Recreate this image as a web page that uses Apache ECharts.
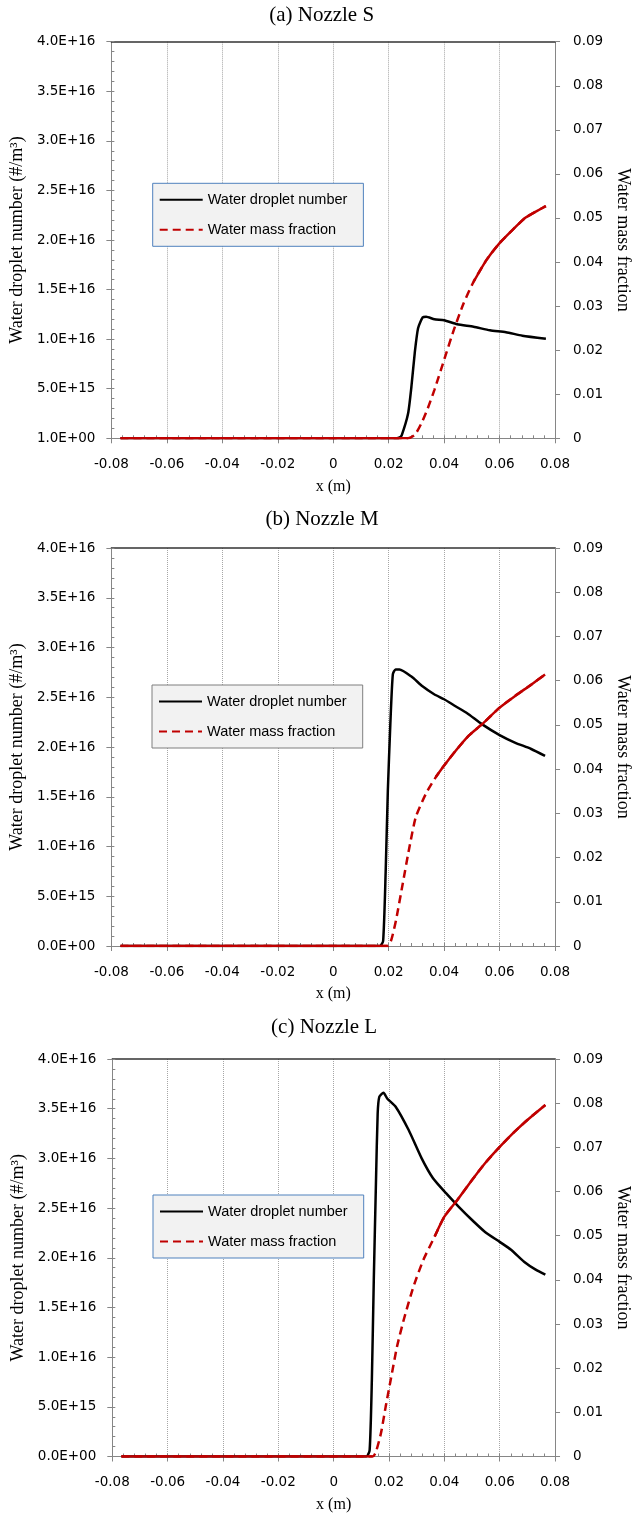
<!DOCTYPE html>
<html><head><meta charset="utf-8">
<script src="https://cdn.jsdelivr.net/npm/echarts@6/dist/echarts.min.js"></script>
<style>html,body{margin:0;padding:0;background:#fff}#c{width:640px;height:1515px}</style>
</head><body><div id="c"></div>
<script>
// ---------- data ----------
const panelTitles = ['(a) Nozzle S', '(b) Nozzle M', '(c) Nozzle L'];
const seriesNames = ['Water droplet number', 'Water mass fraction'];
const leftAxisName = 'Water droplet number (#/m\u00B3)';
const rightAxisName = 'Water mass fraction';
const xAxisName = 'x (m)';
const xTickRange = [-0.08, 0.08, 0.02];
const leftTickRange = [0, 4.0e16, 0.5e16];
const rightTickRange = [0, 0.09, 0.01];
const zeroLabels = ['1.0E+00', '0.0E+00', '0.0E+00'];

// (a) Nozzle S
const sDropX = [-0.0767, 0.0229, 0.0240, 0.0247, 0.0270, 0.0282, 0.0294, 0.0306, 0.0323, 0.0335, 0.0365, 0.0400, 0.0447, 0.0506, 0.0565, 0.0623, 0.0682, 0.0767];
const sDropY = [0, 0, 0.01e16, 0.03e16, 0.25e16, 0.52e16, 0.86e16, 1.11e16, 1.22e16, 1.225e16, 1.20e16, 1.19e16, 1.15e16, 1.125e16, 1.09e16, 1.07e16, 1.035e16, 1.005e16];
const sFracX = [-0.0767, 0.0270, 0.0294, 0.0318, 0.0341, 0.0365, 0.0400, 0.0435, 0.0470, 0.0506, 0.0553, 0.0600, 0.0647, 0.0694, 0.0767];
const sFracY = [0, 0, 0.00075, 0.0034, 0.0068, 0.0110, 0.0178, 0.0246, 0.0306, 0.0355, 0.0405, 0.0443, 0.0473, 0.0501, 0.0527];

// (b) Nozzle M
const mDropX = [-0.0767, 0.0168, 0.0180, 0.0189, 0.0197, 0.0206, 0.0215, 0.0225, 0.0239, 0.0281, 0.0322, 0.0364, 0.0400, 0.0441, 0.0483, 0.0536, 0.0600, 0.0655, 0.0714, 0.0764];
const mDropY = [0, 0, 0.05e16, 0.73e16, 1.56e16, 2.23e16, 2.73e16, 2.78e16, 2.78e16, 2.71e16, 2.61e16, 2.53e16, 2.48e16, 2.41e16, 2.34e16, 2.23e16, 2.12e16, 2.045e16, 1.98e16, 1.91e16];
const mFracX = [-0.0767, 0.0197, 0.0210, 0.0227, 0.0251, 0.0275, 0.0298, 0.0334, 0.0370, 0.0400, 0.0441, 0.0488, 0.0536, 0.0600, 0.0655, 0.0714, 0.0764];
const mFracY = [0, 0, 0.0015, 0.0060, 0.0142, 0.0224, 0.0292, 0.0344, 0.0382, 0.0408, 0.0441, 0.0475, 0.0501, 0.0539, 0.0565, 0.0591, 0.0614];

// (c) Nozzle L
const lDropX = [-0.0767, 0.0118, 0.0130, 0.0138, 0.0145, 0.0153, 0.0159, 0.0165, 0.0180, 0.0194, 0.0224, 0.0271, 0.0318, 0.0359, 0.0406, 0.0453, 0.0500, 0.0547, 0.0600, 0.0641, 0.0688, 0.0730, 0.0765];
const lDropY = [0, 0, 0.065e16, 0.77e16, 1.78e16, 2.78e16, 3.45e16, 3.62e16, 3.66e16, 3.60e16, 3.52e16, 3.285e16, 3.00e16, 2.80e16, 2.65e16, 2.51e16, 2.38e16, 2.26e16, 2.16e16, 2.08e16, 1.96e16, 1.88e16, 1.83e16];
const lFracX = [-0.0767, 0.0141, 0.0153, 0.0171, 0.0188, 0.0206, 0.0229, 0.0253, 0.0288, 0.0324, 0.0365, 0.0400, 0.0447, 0.0500, 0.0547, 0.0600, 0.0653, 0.0700, 0.0765];
const lFracY = [0, 0, 0.0011, 0.0053, 0.0113, 0.0173, 0.0249, 0.0309, 0.0384, 0.0445, 0.0498, 0.0543, 0.0581, 0.0626, 0.0664, 0.0701, 0.0735, 0.0762, 0.0796];

// x beyond which the dense red curve renders solid (Excel dash artefact)
const solidFrom = [0.0506, 0.0370, 0.0365];

// ---------- layout / style ----------
const panels = [
  {dx: sDropX, dy: sDropY, fx: sFracX, fy: sFracY},
  {dx: mDropX, dy: mDropY, fx: mFracX, fy: mFracY},
  {dx: lDropX, dy: lDropY, fx: lFracX, fy: lFracY}
];
const gridPos = [
  {left: 110, top: 41.7, width: 453.3, height: 396.6},
  {left: 111, top: 548, width: 452, height: 398},
  {left: 112.3, top: 1059, width: 453.7, height: 397.5}
];
const titleTop = [5, 509, 1017];
const legendPos = [
  {left: 152.7, top: 183.3, border: '#4f81bd'},
  {left: 152, top: 685, border: '#7f7f7f'},
  {left: 153, top: 1195, border: '#4f81bd'}
];
const RED = '#c00000';
const AX = '#868686';
const serif = 'Liberation Serif';
const tickFont = 'DejaVu Sans';
const SM = 0.2;

function sci(v) {
  if (v === 0) return '0.0E+00';
  const e = Math.floor(Math.log10(v) + 1e-9);
  const m = v / Math.pow(10, e);
  return m.toFixed(1) + 'E+' + (e < 10 ? '0' : '') + e;
}
function pairs(xs, ys) { return xs.map((x, i) => [x, ys[i]]); }

const option = {
  backgroundColor: '#fff',
  animation: false,
  title: [], grid: [], xAxis: [], yAxis: [], legend: [], series: []
};

panels.forEach((p, i) => {
  const g = gridPos[i];
  option.grid.push({left: g.left, top: g.top, width: g.width, height: g.height, containLabel: false});
  option.title.push({
    text: panelTitles[i], left: g.left + g.width / 2 - 15, top: titleTop[i], textAlign: 'center', padding: 0,
    textStyle: {fontFamily: serif, fontSize: 21, fontWeight: 'normal', color: '#000'}
  });
  // main x axis (bottom)
  option.xAxis.push({
    type: 'value', gridIndex: i, position: 'bottom', min: xTickRange[0], max: xTickRange[1], interval: xTickRange[2],
    name: xAxisName, nameLocation: 'middle', nameGap: 40,
    nameTextStyle: {fontFamily: serif, fontSize: 16, color: '#000'},
    axisLine: {show: true, onZero: false, lineStyle: {color: AX, width: 1}},
    axisTick: {show: true, inside: false, length: 5, lineStyle: {color: AX}},
    axisLabel: {fontFamily: tickFont, fontSize: 13.5, color: '#000', margin: 19},
    splitLine: {show: true, lineStyle: {color: '#a6a6a6', type: 'dotted', width: 1}}
  });
  // minor ticks overlay (inside)
  option.xAxis.push({
    type: 'value', gridIndex: i, position: 'bottom', min: xTickRange[0], max: xTickRange[1], interval: xTickRange[2] / 5,
    axisLine: {show: false, onZero: false}, axisLabel: {show: false}, splitLine: {show: false},
    axisTick: {show: true, inside: true, length: 3, lineStyle: {color: AX}}
  });
  // top border
  option.xAxis.push({
    type: 'value', gridIndex: i, position: 'top', min: xTickRange[0], max: xTickRange[1], interval: xTickRange[2],
    axisLine: {show: true, onZero: false, lineStyle: {color: '#333', width: 1.5}},
    axisLabel: {show: false}, axisTick: {show: false}, splitLine: {show: false}
  });
  // left y
  option.yAxis.push({
    type: 'value', gridIndex: i, position: 'left', min: leftTickRange[0], max: leftTickRange[1], interval: leftTickRange[2],
    name: leftAxisName, nameLocation: 'middle', nameRotate: 90, nameGap: 82,
    nameTextStyle: {fontFamily: serif, fontSize: 18, color: '#000'},
    axisLine: {show: true, onZero: false, lineStyle: {color: AX, width: 1}},
    axisTick: {show: true, inside: false, length: 5, lineStyle: {color: AX}},
    axisLabel: {fontFamily: tickFont, fontSize: 13.5, color: '#000', margin: 16,
      formatter: (v) => v === 0 ? zeroLabels[i] : sci(v)},
    splitLine: {show: false}
  });
  option.yAxis.push({
    type: 'value', gridIndex: i, position: 'left', min: leftTickRange[0], max: leftTickRange[1], interval: leftTickRange[2] / 5,
    axisLine: {show: false, onZero: false}, axisLabel: {show: false}, splitLine: {show: false},
    axisTick: {show: true, inside: true, length: 3, lineStyle: {color: AX}}
  });
  // right y
  option.yAxis.push({
    type: 'value', gridIndex: i, position: 'right', min: rightTickRange[0], max: rightTickRange[1], interval: rightTickRange[2],
    name: rightAxisName, nameLocation: 'middle', nameRotate: -90, nameGap: 52,
    nameTextStyle: {fontFamily: serif, fontSize: 18, color: '#000'},
    axisLine: {show: true, onZero: false, lineStyle: {color: AX, width: 1}},
    axisTick: {show: true, inside: false, length: 5, lineStyle: {color: AX}},
    axisLabel: {fontFamily: tickFont, fontSize: 13.5, color: '#000', margin: 18},
    splitLine: {show: false}
  });
  const lp = legendPos[i];
  option.legend.push({
    left: lp.left, top: lp.top, orient: 'vertical', data: seriesNames,
    backgroundColor: '#f2f2f2', borderColor: lp.border, borderWidth: 1, borderRadius: 0,
    padding: [9, 16, 9, 6], itemGap: 15, itemWidth: 43, itemHeight: 14, selectedMode: false,
    itemStyle: {opacity: 0},
    textStyle: {fontFamily: 'Liberation Sans', fontSize: 14.5, color: '#000'}
  });
  const fracData = pairs(p.fx, p.fy);
  const riseStart = p.fx[1];
  option.series.push({
    name: seriesNames[1], type: 'line', xAxisIndex: 3 * i, yAxisIndex: 3 * i + 2, data: fracData,
    symbol: 'none', smooth: SM, z: 3,
    lineStyle: {color: RED, width: 2.5, type: [8, 5]}, itemStyle: {color: RED}
  });
  option.series.push({
    name: 'solidA' + i, type: 'line', xAxisIndex: 3 * i, yAxisIndex: 3 * i + 2,
    data: fracData.filter(d => d[0] <= riseStart), symbol: 'none', z: 3,
    lineStyle: {color: RED, width: 2.5}
  });
  option.series.push({
    name: 'solidB' + i, type: 'line', xAxisIndex: 3 * i, yAxisIndex: 3 * i + 2,
    data: fracData.filter(d => d[0] >= solidFrom[i]), symbol: 'none', smooth: SM, z: 3,
    lineStyle: {color: RED, width: 2.5}
  });
  option.series.push({
    name: seriesNames[0], type: 'line', xAxisIndex: 3 * i, yAxisIndex: 3 * i, data: pairs(p.dx, p.dy),
    symbol: 'none', smooth: SM, z: 2,
    lineStyle: {color: '#000', width: 2.5}, itemStyle: {color: '#000'}
  });
});

const chart = echarts.init(document.getElementById('c'), null, {renderer: 'canvas', width: 640, height: 1515});
chart.setOption(option);
</script>
</body></html>
